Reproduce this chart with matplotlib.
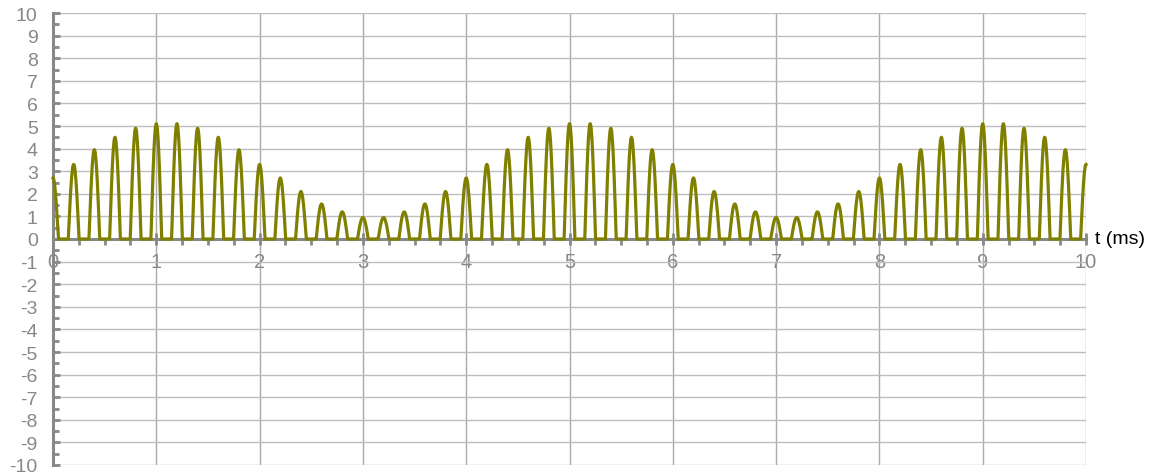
import matplotlib.pyplot as plt
import numpy as np

plt.rcParams["font.family"] = ["Liberation Sans", "DejaVu Sans"]
plt.rcParams["axes.unicode_minus"] = False

# pulse centres (ms) and peak heights
peak_times = [round(0.2 * k, 1) for k in range(51)]
peak_heights = [
    2.7, 3.3, 3.95, 4.5, 4.9, 5.1, 5.1, 4.9, 4.5, 3.95,
    3.3, 2.7, 2.1, 1.55, 1.2, 0.95, 0.95, 1.2, 1.55, 2.1,
    2.7, 3.3, 3.95, 4.5, 4.9, 5.1, 5.1, 4.9, 4.5, 3.95,
    3.3, 2.7, 2.1, 1.55, 1.2, 0.95, 0.95, 1.2, 1.55, 2.1,
    2.7, 3.3, 3.95, 4.5, 4.9, 5.1, 5.1, 4.9, 4.5, 3.95,
    3.3,
]
half_width = 0.052  # each pulse is a half-cosine lobe ~0.1 ms wide

x_ticks = list(range(0, 11))
y_ticks = list(range(-10, 11))

# build the trace: zero baseline with a lobe at each pulse centre
t = np.linspace(0, 10, 8001)
y = np.zeros_like(t)
for tc, h in zip(peak_times, peak_heights):
    d = t - tc
    m = np.abs(d) <= half_width
    y[m] = h * np.cos(np.pi / 2 * d[m] / half_width)

fig = plt.figure(figsize=(11.55, 4.77), dpi=100)
ax = fig.add_axes([53 / 1155, 11 / 477, 1033 / 1155, 452 / 477])

ax.plot(t, y, color="#808000", linewidth=2.3, zorder=3, clip_on=False)

ax.set_xlim(0, 10)
ax.set_ylim(-10, 10)
ax.set_xticks(x_ticks)
ax.set_yticks(y_ticks)
ax.set_xticks(np.arange(0, 10.01, 0.25), minor=True)
ax.set_yticks(np.arange(-10, 10.01, 0.5), minor=True)

ax.grid(True, which="major", axis="y", color="#bdbdbd", linewidth=1.0, zorder=0)
ax.grid(True, which="major", axis="x", color="#aaaaaa", linewidth=1.0, zorder=0)

for side in ["top", "right"]:
    ax.spines[side].set_visible(False)
ax.spines["left"].set_position(("data", 0))
ax.spines["bottom"].set_position(("data", 0))
ax.spines["left"].set_color("#888888")
ax.spines["bottom"].set_color("#888888")
ax.spines["left"].set_linewidth(2.2)
ax.spines["bottom"].set_linewidth(2.2)

ax.tick_params(axis="x", which="major", direction="inout", length=9, width=2,
               color="#888888", labelcolor="#888888", labelsize=14.5, pad=5)
ax.tick_params(axis="x", which="minor", direction="out", length=4, width=2,
               color="#888888")
ax.tick_params(axis="y", which="major", direction="in", length=5, width=2,
               color="#888888", labelcolor="#888888", labelsize=14, pad=11)
ax.tick_params(axis="y", which="minor", direction="in", length=4, width=2,
               color="#888888")

ax.text(10.087, 0, "t (ms)", ha="left", va="center", fontsize=14,
        color="black", clip_on=False)

plt.savefig("out.png", dpi=100)
plt.close()
